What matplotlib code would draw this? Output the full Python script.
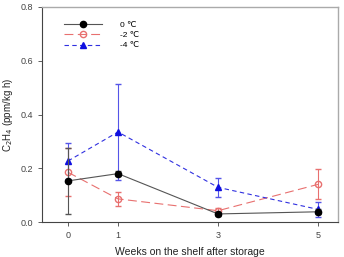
import matplotlib.pyplot as plt

plt.rcParams['font.family'] = ['Liberation Sans', 'DejaVu Sans']

weeks = [0, 1, 3, 5]
t0 = [0.153, 0.180, 0.030, 0.038]
t0_err = [0.123, 0.010, 0.006, 0.010]
t2 = [0.185, 0.086, 0.042, 0.140]
t2_err = [0.090, 0.027, 0.010, 0.056]
t4 = [0.227, 0.335, 0.129, 0.047]
t4_err = [0.066, 0.180, 0.035, 0.027]

fig = plt.figure(figsize=(3.44, 2.57), dpi=100)
ax = fig.add_axes([42/344, 1 - 222/257, 296/344, 215/257])

e0 = ax.errorbar(weeks, t0, yerr=t0_err, color='#555555', lw=0.8, marker='o', ms=4.5,
                 mfc='black', mec='black', capsize=2.5, ecolor='#555555', elinewidth=0.8,
                 label='0 \u2103', zorder=3)
e2 = ax.errorbar(weeks, t2, yerr=t2_err, color='#e8706f', lw=0.8, ls=(0, (8, 4)), marker='o', ms=4.5,
                 mfc='none', mec='#e8706f', capsize=2.5, ecolor='#e8706f', elinewidth=0.8,
                 label='-2 \u2103', zorder=2)
e4 = ax.errorbar(weeks, t4, yerr=t4_err, color='#3030e0', lw=0.8, ls=(0, (4, 3)), marker='^', ms=4.5,
                 mfc='#1010e0', mec='#1010e0', capsize=2.5, ecolor='#5555e8', elinewidth=0.8,
                 label='-4 \u2103', zorder=2)

ax.set_xlim(-0.52, 5.4)
ax.set_ylim(0, 0.8)
ax.set_xticks(weeks)
ax.set_yticks([0.0, 0.2, 0.4, 0.6, 0.8])
ax.set_yticklabels(['0.0', '0.2', '0.4', '0.6', '0.8'])
ax.tick_params(labelsize=6.5, colors='#444444', length=3, width=0.6)
for s in ['left', 'bottom']:
    ax.spines[s].set_color('#444444')
    ax.spines[s].set_linewidth(0.8)
for s in ['top', 'right']:
    ax.spines[s].set_color('#aaaaaa')
    ax.spines[s].set_linewidth(1.0)

ax.set_ylabel('C$_2$H$_4$ (ppm/kg h)', fontsize=7, color='#222222', labelpad=4)
ax.set_xlabel('Weeks on the shelf after storage', fontsize=7.5, color='#222222', labelpad=5)

ax.legend(handles=[e0[0], e2[0], e4[0]], labels=['0 \u2103', '-2 \u2103', '-4 \u2103'],
          loc='upper left', bbox_to_anchor=(0.05, 0.97), frameon=False, fontsize=6,
          handlelength=4.5, handletextpad=2.2, labelspacing=0.3)

fig.savefig('out.png', dpi=100)
